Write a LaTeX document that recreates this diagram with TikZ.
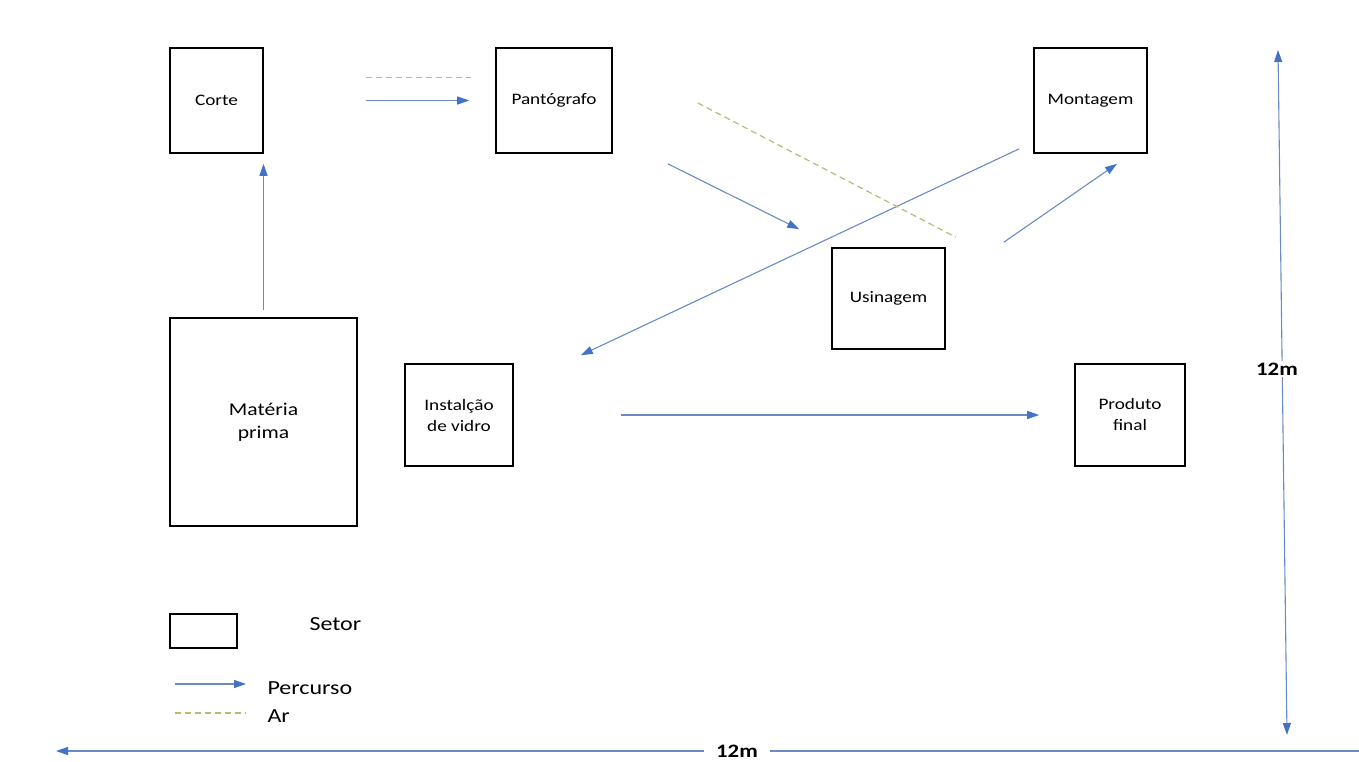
\documentclass[tikz,border=0pt]{standalone}
\usepackage{fontspec}
\setmainfont{Carlito}[FakeStretch=1.2]
\usetikzlibrary{positioning,calc,arrows.meta}
\definecolor{percursoline}{RGB}{105,138,195}
\definecolor{percursotip}{RGB}{68,114,196}
\definecolor{arline}{RGB}{188,184,118}
\tikzset{
  setor/.style={draw=black, line width=1.6pt, align=center, inner sep=0pt,
    font=\fontsize{16}{21}\selectfont},
  percurso/.style={draw=percursoline, line width=1.1pt,
    -{Triangle[length=12pt,width=8pt,color=percursotip]}},
  ar/.style={draw=arline, line width=1.2pt, dash pattern=on 6pt off 4pt},
  medida/.style={percurso, {Triangle[length=12pt,width=8pt,color=percursotip]}-{Triangle[length=12pt,width=8pt,color=percursotip]}},
  rotulo/.style={font=\fontsize{19}{22}\selectfont\bfseries, fill=white, inner sep=2pt},
  legenda/.style={anchor=west, font=\fontsize{20}{23}\selectfont}
}
\begin{document}
\begin{tikzpicture}[x=1pt,y=-1pt]
\useasboundingbox (0,0) rectangle (1359,762);
% setores
\node[setor, minimum width=93, minimum height=105] (corte) at (216.5,100.5) {Corte};
\node[setor, minimum width=116, minimum height=105] (panto) at (554,100.5) {Pantógrafo};
\node[setor, minimum width=113, minimum height=105] (mont) at (1090.5,100.5) {Montagem};
\node[setor, minimum width=113, minimum height=101] (usin) at (888.5,298.5) {Usinagem};
\node[setor, minimum width=187, minimum height=208, font=\fontsize{18}{23}\selectfont] (mp) at (263.5,422) {Matéria\\prima};
\node[setor, minimum width=108, minimum height=102] (inst) at (459,415) {Instalção\\de vidro};
\node[setor, minimum width=110, minimum height=102] (prod) at (1130,415) {Produto\\final};

% percurso
\draw[percurso, shorten <=7, shorten >=10] (mp.north) -- (mp.north |- corte.south);
\draw[percurso, shorten <=102, shorten >=26] (corte.east) -- (panto.west);
\draw[percurso] ([xshift=55pt,yshift=-10pt]panto.south east) -- ([xshift=-32pt,yshift=18pt]usin.north west);
\draw[percurso] ([xshift=58pt,yshift=5pt]usin.north east) -- ([xshift=26.5pt,yshift=-10pt]mont.south);
\draw[percurso] ([xshift=-14pt,yshift=5pt]mont.south west) -- ([xshift=67pt,yshift=8pt]inst.north east);
\draw[percurso, shorten <=107, shorten >=35] (inst.east) -- (prod.west);

% ar
\draw[ar, shorten <=102, shorten >=24] ([yshift=23pt]corte.east) -- ([yshift=23pt]panto.west);
\draw[ar] ([xshift=85pt,yshift=-2.5pt]panto.east) -- ([xshift=10pt,yshift=10pt]usin.north east);

% medidas
\coordinate (vtop) at (1278,50);
\coordinate (vbot) at (1287,735);
\draw[medida] (vtop) -- (vbot);
\node[rotulo] (v12) at (1277,369) {12m};
\coordinate (hleft) at (56,751);
\coordinate (hright) at (1359,751);
\node[rotulo, inner xsep=12pt] (h12) at (737,751) {12m};
\draw[percurso] (h12.west) -- (hleft);
\draw[draw=percursoline, line width=1.1pt] (h12.east) -- (hright);

% legenda
\node[setor, minimum width=67, minimum height=34] (leg) at (203.5,631) {};
\node[legenda] (legsetor) at (306,624) {Setor};
\coordinate (lp1) at (175,684);
\coordinate (lp2) at (246,684);
\draw[percurso] (lp1) -- (lp2);
\node[legenda] (legperc) at (264,688) {Percurso};
\coordinate (la1) at (175,713);
\coordinate (la2) at (246,713);
\draw[ar] (la1) -- (la2);
\node[legenda] (legar) at (264,716) {Ar};
\end{tikzpicture}
\end{document}
